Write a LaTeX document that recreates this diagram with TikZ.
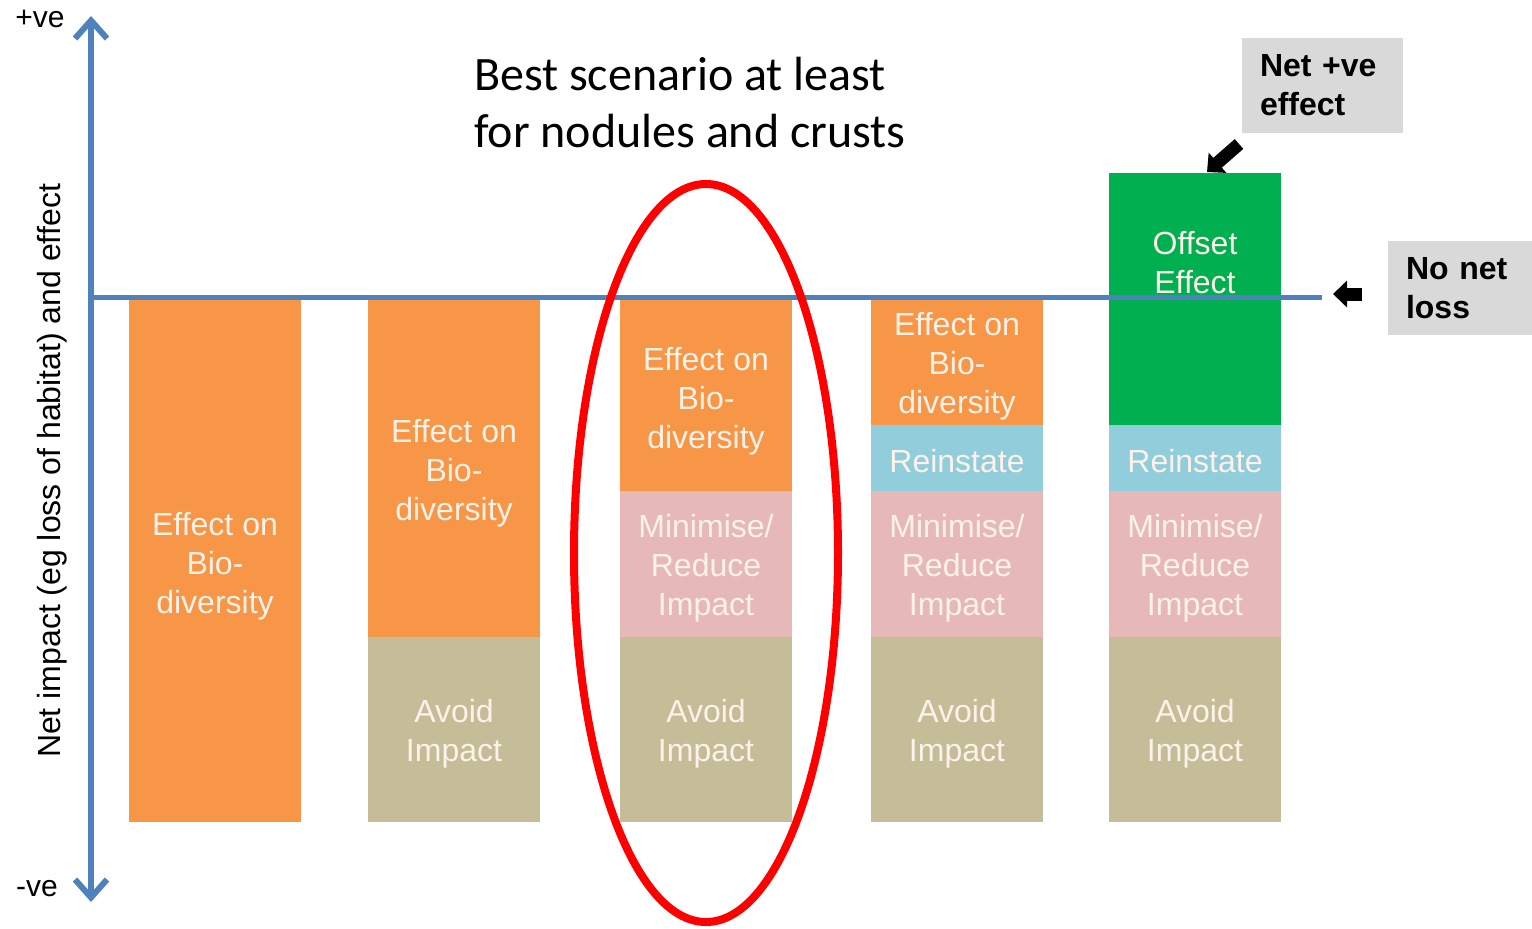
\documentclass[tikz,border=0pt]{standalone}
\usepackage{fontspec}
\setmainfont{Liberation Sans}
\newfontfamily\calibrifont{Carlito}
\usepackage{tikz}
\usetikzlibrary{arrows.meta, positioning}
\usepackage{xcolor}
\definecolor{axisblue}{RGB}{79,129,189}
\definecolor{barorange}{RGB}{247,150,70}
\definecolor{barkhaki}{RGB}{196,189,151}
\definecolor{barpink}{RGB}{230,185,184}
\definecolor{barblue}{RGB}{146,205,220}
\definecolor{bargreen}{RGB}{0,176,80}
\definecolor{boxgrey}{RGB}{217,217,217}
\definecolor{bartextcol}{RGB}{253,242,234}
\tikzset{%
	bartext/.style={
		text=bartextcol,
		align=center,
		font=\fontsize{16}{19.5}\selectfont
	},
	axisline/.style={
		draw=axisblue,
		line width=3pt
	},
	greybox/.style={
		fill=boxgrey,
		inner xsep=9pt,
		align=left,
		font=\bfseries\fontsize{16}{19.5}\selectfont
	},
	blockarrow/.style={
		line width=6.5pt,
		-{Triangle[length=7pt, width=13pt]}
	},
}
\begin{document}
\begin{tikzpicture}[x=0.5pt, y=-0.5pt]
			\useasboundingbox (0,0) rectangle (1532,928);
			
			% Bar 1
			\fill[barorange] (129,300) rectangle (301,822);
			\node[bartext] (effA) at (215,566) {Effect on\\Bio-\\diversity};
			
			% Bar 2
			\fill[barorange] (368,300) rectangle (540,637);
			\fill[barkhaki] (368,637) rectangle (540,822);
			\node[bartext] (effB) at (454,473) {Effect on\\Bio-\\diversity};
			\node[bartext] (avoidB) at (454,734) {Avoid\\Impact};
			
			% Bar 3
			\fill[barorange] (620,300) rectangle (792,491);
			\fill[barpink] (620,491) rectangle (792,637);
			\fill[barkhaki] (620,637) rectangle (792,822);
			\node[bartext] (effC) at (706,401) {Effect on\\Bio-\\diversity};
			\node[bartext] (minC) at (706,568) {Minimise/\\Reduce\\Impact};
			\node[bartext] (avoidC) at (706,734) {Avoid\\Impact};
			
			% Bar 4
			\fill[barorange] (871,300) rectangle (1043,425);
			\fill[barblue] (871,425) rectangle (1043,491);
			\fill[barpink] (871,491) rectangle (1043,637);
			\fill[barkhaki] (871,637) rectangle (1043,822);
			\node[bartext] (effD) at (957,366) {Effect on\\Bio-\\diversity};
			\node[bartext] (reinD) at (957,461) {Reinstate};
			\node[bartext] (minD) at (957,568) {Minimise/\\Reduce\\Impact};
			\node[bartext] (avoidD) at (957,734) {Avoid\\Impact};
			
			% Bar 5
			\fill[bargreen] (1109,173) rectangle (1281,425);
			\fill[barblue] (1109,425) rectangle (1281,491);
			\fill[barpink] (1109,491) rectangle (1281,637);
			\fill[barkhaki] (1109,637) rectangle (1281,822);
			\node[bartext] (offE) at (1195,263) {Offset\\Effect};
			\node[bartext] (reinE) at (1195,461) {Reinstate};
			\node[bartext] (minE) at (1195,568) {Minimise/\\Reduce\\Impact};
			\node[bartext] (avoidE) at (1195,734) {Avoid\\Impact};
			
			% No net loss line
			\coordinate (zero) at (91,297);
			\coordinate (zeroend) at (1322,297);
			\draw[axisline, line width=2.5pt] (zero) -- (zeroend);
			
			% Vertical axis
			\coordinate (axtop) at (91,16);
			\coordinate (axbot) at (91,902);
			\draw[axisline, {Straight Barb[length=9pt, width=16pt]}-{Straight Barb[length=9pt, width=16pt]}] (axbot) -- (axtop);
			\node[font=\fontsize{15}{18}\selectfont] (plusve) at (40,19) {+ve};
			\node[font=\fontsize{15}{18}\selectfont] (minusve) at (37,889) {-ve};
			\node[rotate=90, font=\fontsize{16}{19}\selectfont] (ylabel) at (52,471) {Net impact (eg loss of habitat) and effect};
			
			% Title
			\node[anchor=west, align=left, font=\calibrifont\fontsize{24}{28.5}\selectfont] (best) at (467,103) {Best scenario at least\\for nodules and crusts};
			
			% Red ellipse round bar 3
			\draw[red, line width=4pt] (706,553) ellipse [x radius=132, y radius=369];
			
			% Grey boxes
			\node[greybox, text width=62.5pt, minimum height=47.5pt] (netpos) at (1322.5,85.5) {Net +ve\\effect};
			\node[greybox, text width=54pt, minimum height=47pt] (nonet) at (1460,288) {No net\\loss};
			
			% Block arrows
			\coordinate (netposfrom) at (1239,144);
			\coordinate (netposto) at (1207,172);
			\draw[blockarrow] (netposfrom) -- (netposto);
			\coordinate (nonetfrom) at (1362,294);
			\coordinate (nonetto) at (1333,294);
			\draw[blockarrow] (nonetfrom) -- (nonetto);
			
\end{tikzpicture}
\end{document}
